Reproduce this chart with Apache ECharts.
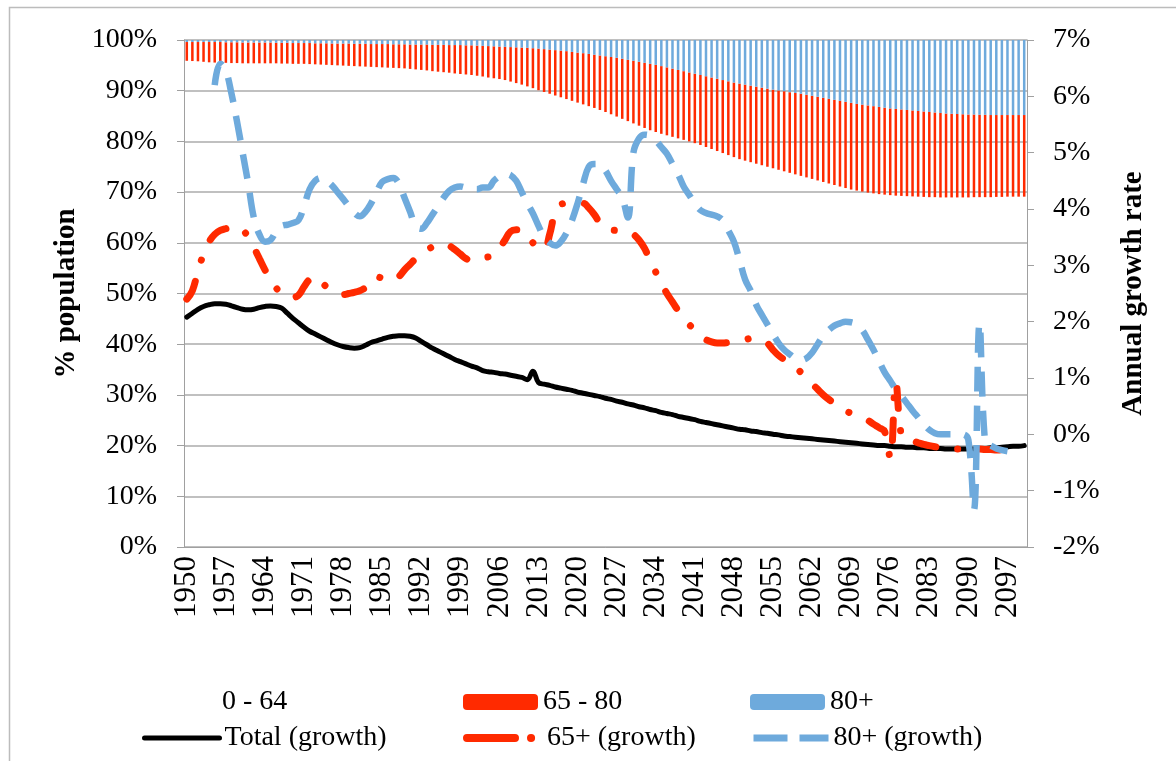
<!DOCTYPE html>
<html>
<head>
<meta charset="utf-8">
<script src="https://cdn.jsdelivr.net/npm/echarts@6/dist/echarts.min.js"></script>
<style>
  html, body { margin: 0; padding: 0; background: #fff; }
  #main { width: 1176px; height: 761px; }
</style>
</head>
<body>
<div id="main"></div>
<script>
var FIRST_YEAR = 1950, LAST_YEAR = 2100;
var years = [];
for (var y = FIRST_YEAR; y <= LAST_YEAR; y++) years.push(String(y));

// share of population, % (stacked bars)
var share064 = [
  95.9, 95.85, 95.8, 95.7, 95.6, 95.55, 95.5, 95.5, 95.45, 95.45,
  95.4, 95.4, 95.4, 95.4, 95.4, 95.4, 95.4, 95.35, 95.35, 95.3,
  95.3, 95.3, 95.25, 95.2, 95.15, 95.1, 95.05, 95.0, 94.95, 94.9,
  94.85, 94.8, 94.75, 94.7, 94.65, 94.6, 94.55, 94.5, 94.45, 94.4,
  94.3, 94.2, 94.1, 94.0, 93.85, 93.75, 93.65, 93.55, 93.4, 93.3,
  93.2, 93.1, 92.95, 92.8, 92.6, 92.45, 92.3, 92.1, 91.8, 91.5,
  91.2, 90.85, 90.5, 90.1, 89.75, 89.4, 89.05, 88.7, 88.35, 88.0,
  87.65, 87.3, 86.95, 86.6, 86.2, 85.8, 85.35, 84.9, 84.45, 84.0,
  83.55, 83.1, 82.65, 82.2, 81.85, 81.5, 81.2, 80.9, 80.6, 80.3,
  80.0, 79.65, 79.3, 78.9, 78.5, 78.1, 77.7, 77.3, 76.9, 76.5,
  76.2, 75.9, 75.6, 75.3, 75.0, 74.7, 74.4, 74.1, 73.8, 73.5,
  73.2, 72.9, 72.6, 72.3, 72.0, 71.7, 71.4, 71.1, 70.8, 70.5,
  70.3, 70.1, 69.9, 69.75, 69.6, 69.5, 69.4, 69.3, 69.25, 69.2,
  69.15, 69.1, 69.05, 69.0, 69.0, 68.95, 68.95, 68.95, 68.95, 68.95,
  68.95, 69.0, 69.0, 69.0, 69.0, 69.05, 69.05, 69.1, 69.1, 69.1, 69.1
];
var share6580 = [
  3.7, 3.75, 3.8, 3.9, 4.0, 4.05, 4.1, 4.05, 4.1, 4.1,
  4.1, 4.1, 4.1, 4.1, 4.1, 4.1, 4.05, 4.1, 4.1, 4.1,
  4.1, 4.1, 4.15, 4.15, 4.2, 4.25, 4.25, 4.3, 4.35, 4.4,
  4.4, 4.45, 4.5, 4.5, 4.55, 4.6, 4.65, 4.65, 4.7, 4.75,
  4.8, 4.9, 5.0, 5.1, 5.2, 5.3, 5.4, 5.45, 5.6, 5.7,
  5.75, 5.85, 5.95, 6.05, 6.2, 6.3, 6.4, 6.55, 6.8, 7.05,
  7.3, 7.6, 7.88, 8.2, 8.45, 8.7, 8.95, 9.2, 9.45, 9.65,
  9.85, 10.1, 10.3, 10.5, 10.75, 11.0, 11.3, 11.6, 11.85, 12.1,
  12.35, 12.6, 12.85, 13.1, 13.25, 13.35, 13.4, 13.45, 13.5, 13.55,
  13.6, 13.7, 13.8, 13.95, 14.1, 14.25, 14.4, 14.55, 14.7, 14.9,
  15.0, 15.1, 15.2, 15.3, 15.4, 15.5, 15.65, 15.8, 15.9, 16.05,
  16.2, 16.3, 16.4, 16.5, 16.6, 16.7, 16.8, 16.9, 17.0, 17.1,
  17.1, 17.15, 17.2, 17.2, 17.2, 17.15, 17.1, 17.1, 17.05, 17.0,
  16.95, 16.9, 16.85, 16.8, 16.7, 16.65, 16.55, 16.5, 16.45, 16.4,
  16.35, 16.3, 16.25, 16.25, 16.2, 16.15, 16.15, 16.1, 16.1, 16.1, 16.1
];
var share80p = [
  0.4, 0.4, 0.4, 0.4, 0.4, 0.4, 0.4, 0.45, 0.45, 0.45,
  0.5, 0.5, 0.5, 0.5, 0.5, 0.5, 0.55, 0.55, 0.55, 0.6,
  0.6, 0.6, 0.6, 0.65, 0.65, 0.65, 0.7, 0.7, 0.7, 0.7,
  0.75, 0.75, 0.75, 0.8, 0.8, 0.8, 0.8, 0.85, 0.85, 0.85,
  0.9, 0.9, 0.9, 0.9, 0.95, 0.95, 0.95, 1.0, 1.0, 1.0,
  1.05, 1.05, 1.1, 1.15, 1.2, 1.25, 1.3, 1.35, 1.4, 1.45,
  1.5, 1.55, 1.62, 1.7, 1.8, 1.9, 2.0, 2.1, 2.2, 2.35,
  2.5, 2.6, 2.75, 2.9, 3.05, 3.2, 3.35, 3.5, 3.7, 3.9,
  4.1, 4.3, 4.5, 4.7, 4.9, 5.15, 5.4, 5.65, 5.9, 6.15,
  6.4, 6.65, 6.9, 7.15, 7.4, 7.65, 7.9, 8.15, 8.4, 8.6,
  8.8, 9.0, 9.2, 9.4, 9.6, 9.8, 9.95, 10.1, 10.3, 10.45,
  10.6, 10.8, 11.0, 11.2, 11.4, 11.6, 11.8, 12.0, 12.2, 12.4,
  12.6, 12.75, 12.9, 13.05, 13.2, 13.35, 13.5, 13.6, 13.7, 13.8,
  13.9, 14.0, 14.1, 14.2, 14.3, 14.4, 14.5, 14.55, 14.6, 14.65,
  14.7, 14.7, 14.75, 14.75, 14.8, 14.8, 14.8, 14.8, 14.8, 14.8, 14.8
];

// annual growth rates, %
var growthTotal = [
  2.08, 2.15, 2.22, 2.27, 2.30, 2.32, 2.32, 2.31, 2.28, 2.25,
  2.22, 2.21, 2.22, 2.25, 2.27, 2.28, 2.27, 2.24, 2.15, 2.06,
  1.98, 1.90, 1.83, 1.78, 1.73, 1.68, 1.63, 1.59, 1.56, 1.54,
  1.53, 1.54, 1.58, 1.63, 1.66, 1.69, 1.72, 1.74, 1.75, 1.75,
  1.74, 1.71, 1.65, 1.59, 1.53, 1.48, 1.43, 1.38, 1.33, 1.29,
  1.25, 1.21, 1.18, 1.13, 1.11, 1.10, 1.08, 1.07, 1.05, 1.03,
  1.01, 0.97, 1.12, 0.92, 0.89, 0.87, 0.84, 0.82, 0.80, 0.78,
  0.75, 0.73, 0.71, 0.69, 0.67, 0.64, 0.62, 0.59, 0.57, 0.54,
  0.52, 0.49, 0.47, 0.44, 0.42, 0.39, 0.37, 0.35, 0.32, 0.30,
  0.28, 0.26, 0.23, 0.21, 0.19, 0.17, 0.15, 0.13, 0.11, 0.09,
  0.08, 0.06, 0.05, 0.03, 0.02, 0.00, -0.01, -0.03, -0.04, -0.05,
  -0.06, -0.07, -0.08, -0.09, -0.10, -0.11, -0.12, -0.13, -0.14, -0.15,
  -0.16, -0.17, -0.18, -0.19, -0.20, -0.20, -0.21, -0.22, -0.22, -0.23,
  -0.23, -0.24, -0.24, -0.25, -0.25, -0.25, -0.26, -0.26, -0.26, -0.26,
  -0.26, -0.26, -0.25, -0.25, -0.24, -0.24, -0.23, -0.22, -0.21, -0.21, -0.20
];
var growth65p = [
  2.40, 2.55, 2.90, 3.20, 3.42, 3.55, 3.62, 3.65, 3.68, 3.68,
  3.63, 3.50, 3.32, 3.12, 2.92, 2.75, 2.60, 2.50, 2.45, 2.43,
  2.47, 2.62, 2.75, 2.80, 2.72, 2.62, 2.55, 2.50, 2.48, 2.50,
  2.52, 2.55, 2.60, 2.65, 2.80, 2.77, 2.74, 2.73, 2.80, 2.92,
  3.02, 3.12, 3.20, 3.27, 3.33, 3.38, 3.39, 3.35, 3.28, 3.20,
  3.12, 3.08, 3.10, 3.13, 3.15, 3.17, 3.30, 3.45, 3.60, 3.63,
  3.62, 3.55, 3.40, 3.30, 3.29, 3.55, 3.95, 4.08, 4.10, 4.10,
  4.10, 4.10, 4.02, 3.90, 3.75, 3.65, 3.63, 3.62, 3.62, 3.60,
  3.55, 3.45, 3.30, 3.08, 2.88, 2.68, 2.50, 2.35, 2.20, 2.08,
  1.95, 1.85, 1.75, 1.68, 1.64, 1.62, 1.62, 1.63, 1.64, 1.66,
  1.68, 1.70, 1.70, 1.68, 1.62, 1.50, 1.40, 1.33, 1.28, 1.20,
  1.10, 1.00, 0.90, 0.80, 0.70, 0.62, 0.55, 0.48, 0.42, 0.37,
  0.33, 0.30, 0.25, 0.18, 0.12, 0.05, -0.42, 0.92, -0.02, -0.10,
  -0.12, -0.15, -0.18, -0.20, -0.22, -0.24, -0.26, -0.26, -0.26, -0.26,
  -0.26, -0.26, -0.26, -0.27, -0.27, -0.28, -0.28, -0.28, null, null, null
];
var growth80p = [
  null, null, null, null, null, 6.20, 6.58, 6.45, 6.05, 5.55,
  5.00, 4.45, 3.85, 3.55, 3.42, 3.45, 3.60, 3.70, 3.72, 3.75,
  3.80, 4.05, 4.35, 4.50, 4.55, 4.50, 4.42, 4.30, 4.18, 4.05,
  3.93, 3.87, 3.95, 4.10, 4.30, 4.48, 4.53, 4.55, 4.45, 4.20,
  3.95, 3.70, 3.65, 3.75, 3.90, 4.05, 4.20, 4.32, 4.38, 4.40,
  4.38, 4.36, 4.35, 4.38, 4.38, 4.50, 4.58, 4.62, 4.60, 4.50,
  4.30, 4.10, 3.92, 3.70, 3.50, 3.40, 3.35, 3.42, 3.57, 3.80,
  4.10, 4.45, 4.75, 4.80, 4.80, 4.68, 4.50, 4.35, 4.20, 3.85,
  5.00, 5.25, 5.32, 5.30, 5.22, 5.10, 4.98, 4.80, 4.62, 4.40,
  4.25, 4.10, 3.98, 3.93, 3.90, 3.87, 3.80, 3.62, 3.42, 3.10,
  2.75, 2.55, 2.30, 2.12, 1.95, 1.78, 1.62, 1.50, 1.42, 1.35,
  1.32, 1.35, 1.45, 1.60, 1.75, 1.85, 1.93, 1.97, 2.00, 1.99,
  1.95, 1.85, 1.68, 1.50, 1.30, 1.10, 0.95, 0.80, 0.68, 0.55,
  0.42, 0.30, 0.18, 0.08, 0.02, 0.00, 0.00, 0.00, 0.00, 0.00,
  -0.10, -1.34, 1.97, -0.15, -0.20, -0.25, -0.28, -0.30, null, null, null
];

var RED = '#ff2a00', BLUE = '#6eaadc';
var FONT = '"Liberation Serif", "Times New Roman", serif';
var txt = { fontFamily: FONT, fontSize: 28, color: '#000' };

var chart = echarts.init(document.getElementById('main'), null, { renderer: 'canvas' });

function legendAt(name, left, top, lineStyle) {
  var l = {
    data: [name], left: left, top: top, padding: 0,
    itemWidth: 75, itemHeight: 16, itemGap: 0,
    textStyle: txt, selectedMode: false
  };
  if (lineStyle) {
    l.lineStyle = lineStyle;
    l.itemStyle = { opacity: 0 };
  }
  return l;
}

var option = {
  animation: false,
  backgroundColor: '#fff',
  graphic: [{
    type: 'rect', left: 7, top: 5, silent: true,
    shape: { width: 1180, height: 770 },
    style: { fill: 'none', stroke: '#bcbcbc', lineWidth: 1.5 }
  }],
  legend: [
    legendAt('0 - 64', 142, 688),
    legendAt('65 - 80', 463, 688),
    legendAt('80+', 750, 688),
    legendAt('Total (growth)', 142, 724, { width: 5, cap: 'round' }),
    legendAt('65+ (growth)', 463, 724, { width: 8, type: [48, 16, 0.1, 40], cap: 'round' }),
    legendAt('80+ (growth)', 750, 724, { width: 7, type: [34, 12], cap: 'butt' })
  ],
  grid: { left: 184, right: 149, top: 40, bottom: 214 },
  xAxis: {
    type: 'category',
    data: years,
    boundaryGap: true,
    axisLine: { lineStyle: { color: '#a0a0a0' } },
    axisTick: { interval: 0, length: 6, lineStyle: { color: '#a0a0a0' } },
    axisLabel: { interval: 6, rotate: 90, margin: 9, fontFamily: FONT, fontSize: 31, color: '#000' }
  },
  yAxis: [{
    type: 'value', min: 0, max: 100, interval: 10,
    name: '% population', nameLocation: 'middle', nameRotate: 90, nameGap: 102,
    nameTextStyle: { fontFamily: FONT, fontSize: 29, fontWeight: 'bold', color: '#000' },
    axisLine: { show: true, lineStyle: { color: '#a0a0a0' } },
    axisTick: { show: true, length: 7, lineStyle: { color: '#a0a0a0' } },
    axisLabel: { formatter: '{value}%', margin: 27, fontFamily: FONT, fontSize: 28, color: '#000' },
    splitLine: { lineStyle: { color: '#ababab', width: 1.5 } }
  }, {
    type: 'value', min: -2, max: 7, interval: 1, position: 'right',
    name: 'Annual growth rate', nameLocation: 'middle', nameRotate: 90, nameGap: 92,
    nameTextStyle: { fontFamily: FONT, fontSize: 29, fontWeight: 'bold', color: '#000' },
    axisLine: { show: true, lineStyle: { color: '#a0a0a0' } },
    axisTick: { show: true, length: 7, lineStyle: { color: '#a0a0a0' } },
    axisLabel: { formatter: '{value}%', margin: 26, fontFamily: FONT, fontSize: 28, color: '#000' },
    splitLine: { show: false }
  }],
  series: [{
    name: '0 - 64', type: 'bar', stack: 'pop', barCategoryGap: '55%',
    itemStyle: { color: 'rgba(255,255,255,0)' },
    data: share064
  }, {
    name: '65 - 80', type: 'bar', stack: 'pop',
    itemStyle: { color: RED },
    data: share6580
  }, {
    name: '80+', type: 'bar', stack: 'pop',
    itemStyle: { color: BLUE },
    data: share80p
  }, {
    name: 'Total (growth)', type: 'line', yAxisIndex: 1,
    symbol: 'none', smooth: 0.4,
    itemStyle: { color: '#000' },
    lineStyle: { color: '#000', width: 5, cap: 'round' },
    data: growthTotal
  }, {
    name: '65+ (growth)', type: 'line', yAxisIndex: 1,
    symbol: 'none', smooth: 0.4,
    itemStyle: { color: RED },
    lineStyle: { color: RED, width: 7, type: [20, 22, 0.1, 22], cap: 'round' },
    data: growth65p
  }, {
    name: '80+ (growth)', type: 'line', yAxisIndex: 1,
    symbol: 'none', smooth: 0.4,
    itemStyle: { color: BLUE },
    lineStyle: { color: BLUE, width: 6.5, type: [25, 14] },
    data: growth80p
  }]
};

chart.setOption(option);
</script>
</body>
</html>
